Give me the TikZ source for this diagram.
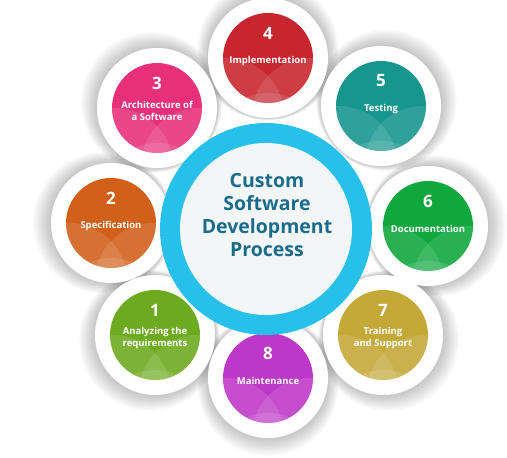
\documentclass[tikz,border=0pt]{standalone}
\usepackage{fontspec}
\setmainfont{Open Sans}
\usetikzlibrary{calc}
\definecolor{c1}{HTML}{6CAA1F}
\definecolor{c2}{HTML}{D2601A}
\definecolor{c3}{HTML}{E8307A}
\definecolor{c4}{HTML}{C8262E}
\definecolor{c5}{HTML}{17968E}
\definecolor{c6}{HTML}{0FA83C}
\definecolor{c7}{HTML}{C4A838}
\definecolor{c8}{HTML}{BE38C8}
\definecolor{ringcyan}{HTML}{27C0EA}
\definecolor{corefill}{HTML}{F2F6F7}
\definecolor{titleblue}{HTML}{1B6C8C}
\tikzset{
  whitedisk/.style={circle, fill=white, minimum size=120pt, inner sep=0pt},
  colordisk/.style={circle, minimum size=90pt, inner sep=0pt},
  numtext/.style={text=white, font=\bfseries\fontsize{17}{17}\selectfont, inner sep=0pt},
  labtext/.style={text=white, align=center, font=\bfseries\fontsize{9.5}{12}\selectfont, inner sep=0pt},
  titletext/.style={text=titleblue, align=center, font=\bfseries\fontsize{19.5}{23.3}\selectfont, inner sep=0pt},
  gloss/.style={fill=white, opacity=0.11}
}
\newcommand\bshadow[2]{%
  \foreach \k in {1,...,8} {
    \fill[black, opacity=0.028] ($(#1,#2)!-0.006*\k!(268,226)$) circle ({60+\k*1.3});
  }%
}
\newcommand\bubble[6]{%
  \node[whitedisk] (w#1) at (#2,#3) {};
  \node[colordisk, fill=#4] (b#1) at (#2,#3) {};
  \begin{scope}
    \clip (#2,#3) circle (45);
    \fill[gloss] ($(b#1.center)+(-42,58)$) circle (58);
    \fill[gloss] ($(b#1.center)+(42,58)$) circle (58);
    \fill[gloss] ($(b#1.center)+(0,90)$) circle (55);
  \end{scope}
  \node[numtext] (n#1) at ($(b#1.center)+(0,-25)$) {#5};
  \node[labtext] (l#1) at ($(b#1.center)+(0,3)$) {#6};
}
\begin{document}
\begin{tikzpicture}[x=1pt,y=-1pt]
\useasboundingbox (0,0) rectangle (507,458);
\fill[white] (0,0) rectangle (507,458);
\bshadow{155}{335}
\bshadow{111}{223}
\bshadow{157}{108}
\bshadow{268}{58}
\bshadow{381}{106}
\bshadow{428}{226}
\bshadow{383}{335}
\bshadow{268}{378}
\bubble{1}{155}{335}{c1}{1}{Analyzing the\\requirements}
\bubble{2}{111}{223}{c2}{2}{Specification}
\bubble{3}{157}{108}{c3}{3}{Architecture of\\a Software}
\bubble{4}{268}{58}{c4}{4}{Implementation}
\bubble{5}{381}{106}{c5}{5}{Testing}
\bubble{6}{428}{226}{c6}{6}{Documentation}
\bubble{7}{383}{335}{c7}{7}{Training\\and Support}
\bubble{8}{268}{378}{c8}{8}{Maintenance}
\node[circle, fill=ringcyan, minimum size=212pt, inner sep=0pt] (ring) at (266,229) {};
\node[circle, fill=corefill, minimum size=172pt, inner sep=0pt] (core) at (ring.center) {};
\node[titletext] (title) at (267,215) {Custom\\Software\\Development\\Process};
\end{tikzpicture}
\end{document}
